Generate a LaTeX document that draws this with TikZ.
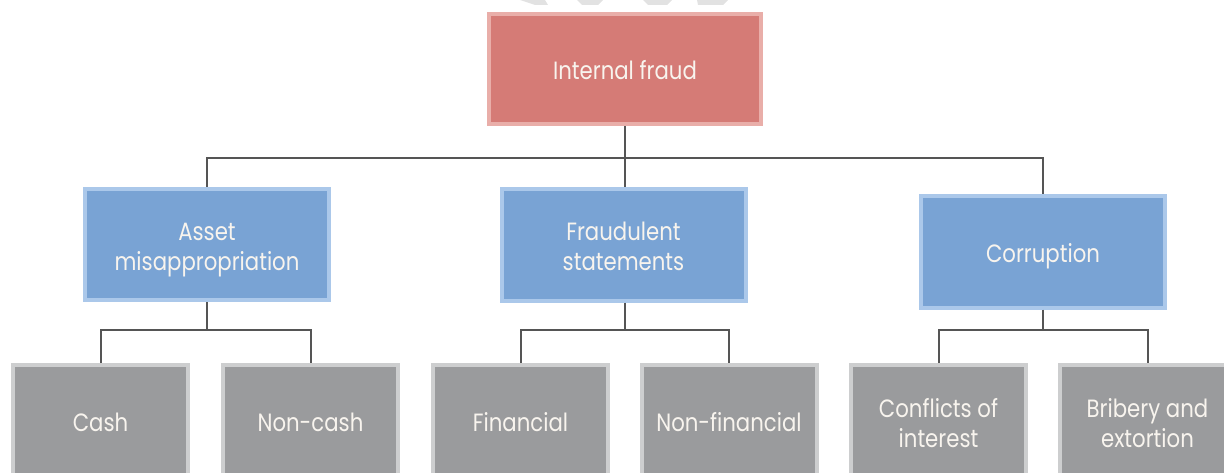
\documentclass[tikz,border=0pt]{standalone}
\usepackage{fontspec}
\setmainfont[FakeStretch=0.85]{Poppins}
\definecolor{redfill}{HTML}{D57B76}
\definecolor{redline}{HTML}{E9AEA9}
\definecolor{bluefill}{HTML}{79A3D4}
\definecolor{blueline}{HTML}{ABC8EA}
\definecolor{grayfill}{HTML}{9A9B9D}
\definecolor{grayline}{HTML}{CDCECF}
\definecolor{txt}{HTML}{F8F4EE}
\definecolor{conncol}{HTML}{555555}
\definecolor{wm}{HTML}{E2E2E2}
\newcommand{\twolines}[2]{\raisebox{4pt}[0pt][0pt]{\begin{tabular}[t]{@{}c@{}}#1\\#2\end{tabular}}}
\begin{document}
\begin{tikzpicture}[x=1pt,y=-1pt,
  box/.style={rectangle, line width=4pt, align=center, text=txt,
    font=\fontsize{25}{30}\selectfont, inner sep=0pt},
  oneline/.style={execute at begin node={\rule{0pt}{27pt}},
    execute at end node={\rule[-6.4pt]{0pt}{6.4pt}}},
  topbox/.style={box, fill=redfill, draw=redline, minimum width=272pt, minimum height=110pt},
  midbox/.style={box, fill=bluefill, draw=blueline, minimum width=244pt, minimum height=111pt},
  leafbox/.style={box, fill=grayfill, draw=grayline, minimum width=175pt, minimum height=112pt},
  conn/.style={draw=conncol, line width=2pt}]
\useasboundingbox (0,0) rectangle (1224,473);
\clip (0,0) rectangle (1224,473);
% watermark fragments
\fill[wm] (520,0) -- (545,0) -- (548,5) -- (535,5) -- cycle;
\fill[wm] (577,0) -- (603,0) -- (598,5) -- (582,5) -- cycle;
\fill[wm] (643,0) -- (672,0) -- (667,5) -- (648,5) -- cycle;
\fill[wm] (697,0) -- (728,0) -- (723,5) -- (698,5) -- cycle;
% nodes
\node[topbox, oneline] (top) at (625,69) {Internal fraud};
\node[midbox] (b1) at (207,244.5) {\twolines{Asset}{misappropriation}};
\node[midbox] (b2) at (623.5,245) {\twolines{Fraudulent}{statements}};
\node[midbox, oneline] (b3) at (1043,252) {Corruption};
\node[leafbox, oneline] (g1) at (100.5,421) {Cash};
\node[leafbox, oneline] (g2) at (310.5,421) {Non-cash};
\node[leafbox, oneline] (g3) at (520.5,421) {Financial};
\node[leafbox, oneline] (g4) at (729,421) {Non-financial};
\node[leafbox] (g5) at (938.5,421) {\twolines{Conflicts of}{interest}};
\node[leafbox] (g6) at (1147.5,421) {\twolines{Bribery and}{extortion}};
% connectors
\coordinate (bar) at (625,158);
\coordinate (j1) at (207,330);
\coordinate (j2) at (625,330);
\coordinate (j3) at (1043,330);
\draw[conn] (top.south) -- (bar);
\draw[conn] (b1.north) |- (bar) -| (b3.north);
\draw[conn] (bar) -- (bar |- b2.north);
\draw[conn] (b1.south) -- (j1);
\draw[conn] (g1.north) |- (j1) -| (g2.north);
\draw[conn] (j2 |- b2.south) -- (j2);
\draw[conn] (g3.north) |- (j2) -| (g4.north);
\draw[conn] (b3.south) -- (j3);
\draw[conn] (g5.north) |- (j3) -| (g6.north);
\end{tikzpicture}
\end{document}
